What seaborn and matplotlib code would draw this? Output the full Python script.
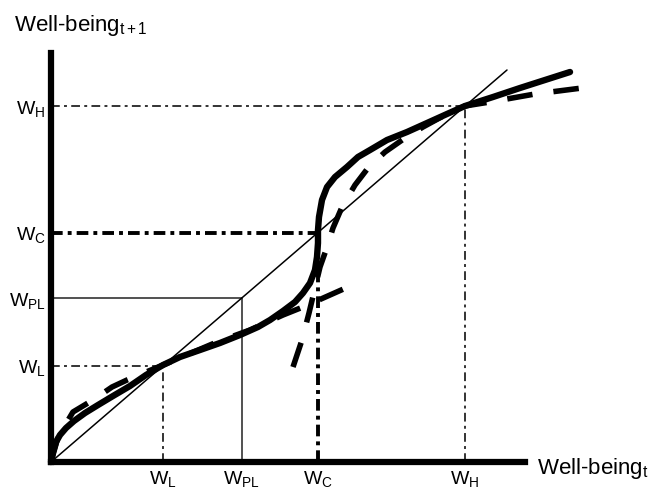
import numpy as np
import matplotlib
matplotlib.use("Agg")
import matplotlib.pyplot as plt
import seaborn as sns

# ==========================================
# DATA
# ==========================================

level_names = ["L", "PL", "C", "H"]
level_values = [2.46, 4.18, 5.85, 9.08]

# thick solid S-curve
solid_x = [0.0, 0.044, 0.110, 0.197, 0.329, 0.504, 0.746, 1.031, 1.360,
           1.732, 2.083, 2.456, 2.829, 3.268, 3.706, 4.145, 4.539, 4.803,
           5.088, 5.351, 5.526, 5.680, 5.789, 5.833, 5.855, 5.855, 5.877,
           5.943, 6.053, 6.228, 6.491, 6.732, 6.996, 7.368, 7.807, 8.246,
           8.684, 9.079, 9.693, 10.285, 10.833, 11.382]
solid_y = [0.0, 0.255, 0.510, 0.689, 0.867, 1.046, 1.250, 1.454, 1.684,
           1.939, 2.219, 2.474, 2.679, 2.857, 3.036, 3.240, 3.444, 3.622,
           3.852, 4.082, 4.311, 4.566, 4.898, 5.230, 5.587, 5.918, 6.250,
           6.684, 7.015, 7.270, 7.526, 7.781, 7.959, 8.214, 8.418, 8.648,
           8.878, 9.082, 9.311, 9.541, 9.745, 9.949]

# dashed curve, lower branch
low_x = [0.0, 0.154, 0.482, 0.921, 1.338, 1.667, 2.456, 3.640, 4.364, 5.088,
         5.526, 6.513]
low_y = [0.0, 0.638, 1.276, 1.582, 1.913, 2.092, 2.474, 3.061, 3.367, 3.750,
         3.954, 4.464]

# dashed curve, upper branch
up_x = [5.307, 5.504, 5.658, 5.789, 5.899, 6.031, 6.184, 6.382, 6.667, 6.952,
        7.325, 7.763, 8.158, 8.640, 9.079, 9.627, 10.614, 11.645]
up_y = [2.423, 3.112, 3.801, 4.439, 4.974, 5.408, 5.969, 6.505, 7.066, 7.500,
        7.908, 8.265, 8.546, 8.852, 9.082, 9.184, 9.388, 9.541]

# 45 degree line
diag = [0.0, 10.0]

# ==========================================
# STYLE
# ==========================================

sns.set_theme(style="white")
plt.rcParams["font.family"] = ["Liberation Sans", "DejaVu Sans"]
plt.rcParams["mathtext.fontset"] = "custom"
plt.rcParams["mathtext.rm"] = "Liberation Sans"
plt.rcParams["mathtext.it"] = "Liberation Sans"

fig = plt.figure(figsize=(6.6, 4.9), dpi=100)
ax = fig.add_axes([51 / 660, 28 / 490, 474 / 660, 409 / 490])

ax.set_xlim(0, 474 / 45.6)
ax.set_ylim(0, 409 / 39.2)

# ==========================================
# GUIDE LINES
# ==========================================

thin_dd = (0, (4.5, 2.2, 1.5, 2.2))
thick_dd = (0, (3.0, 1.3, 1.0, 1.3))

for name, w in zip(level_names, level_values):
    if name == "PL":
        kw = dict(color="#222222", lw=1.1, linestyle="-")
    elif name == "C":
        kw = dict(color="black", lw=2.8, linestyle=thick_dd)
    else:
        kw = dict(color="#333333", lw=1.4, linestyle=thin_dd)
    ax.plot([0, w], [w, w], **kw)
    ax.plot([w, w], [0, w], **kw)

sns.lineplot(x=diag, y=diag, ax=ax, color="black", lw=1.1,
             estimator=None, sort=False, clip_on=False)

# ==========================================
# CURVES
# ==========================================

dash = (0, (4.6, 3.8))

sns.lineplot(x=low_x, y=low_y, ax=ax, color="black", lw=4.0,
             linestyle=dash, estimator=None, sort=False, clip_on=False,
             dash_capstyle="butt")

sns.lineplot(x=up_x, y=up_y, ax=ax, color="black", lw=4.0,
             linestyle=dash, estimator=None, sort=False, clip_on=False,
             dash_capstyle="butt")

sns.lineplot(x=solid_x, y=solid_y, ax=ax, color="black", lw=4.6,
             estimator=None, sort=False, clip_on=False,
             solid_joinstyle="round", solid_capstyle="round")

# ==========================================
# AXES
# ==========================================

for side in ["top", "right"]:
    ax.spines[side].set_visible(False)
for side in ["left", "bottom"]:
    ax.spines[side].set_linewidth(4.5)
    ax.spines[side].set_color("black")

tick_labels = [r"$\mathrm{W_{%s}}$" % n for n in level_names]
ax.set_xticks(level_values)
ax.set_xticklabels(tick_labels)
ax.set_yticks(level_values)
ax.set_yticklabels(tick_labels)
ax.tick_params(axis="both", length=0, labelsize=14, colors="black")
ax.tick_params(axis="x", pad=5)
ax.tick_params(axis="y", pad=4)

ax.set_xlabel(r"Well-being$_{\mathrm{t}}$", fontsize=16, color="black",
              ha="left", va="baseline")
ax.xaxis.set_label_coords((537 - 51) / 474, (462 - 474) / 409)

ax.set_ylabel(r"Well-being$_{\mathrm{t+1}}$", fontsize=16, color="black",
              rotation=0, ha="left", va="baseline")
ax.yaxis.set_label_coords((14 - 51) / 474, (462 - 31) / 409)

fig.savefig("out.png", dpi=100)
